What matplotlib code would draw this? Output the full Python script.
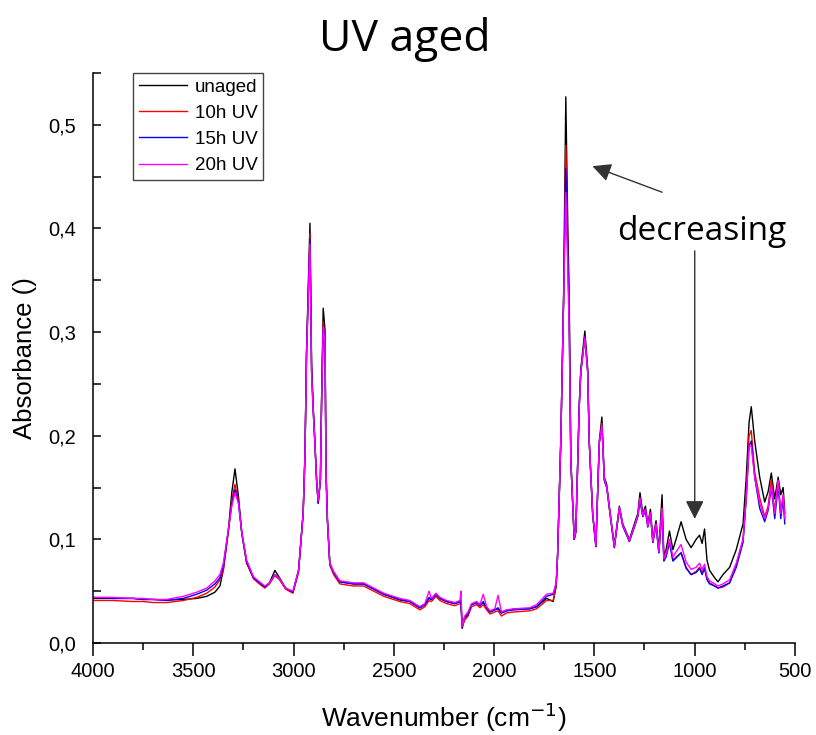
import numpy as np
import matplotlib.pyplot as plt
from matplotlib.ticker import MultipleLocator, FuncFormatter

# FTIR absorbance spectra, read at characteristic wavenumbers (cm-1)
wavenumber = [
    4000, 3900, 3800, 3750, 3700, 3633, 3550, 3483, 3433, 3392,
    3367, 3350, 3325, 3308, 3292, 3275, 3258, 3234, 3200, 3170,
    3143, 3120, 3093, 3070, 3040, 3003, 2975, 2952, 2943, 2935,
    2918, 2910, 2902, 2894, 2885, 2877, 2866, 2860, 2852, 2843,
    2838, 2831, 2819, 2800, 2769, 2700, 2650, 2600, 2550, 2470,
    2420, 2370, 2345, 2324, 2312, 2290, 2270, 2237, 2196, 2170,
    2165, 2159, 2146, 2130, 2112, 2087, 2070, 2054, 2037, 2020,
    1996, 1980, 1963, 1938, 1897, 1822, 1788, 1738, 1705, 1690,
    1683, 1667, 1653, 1642, 1632, 1625, 1617, 1600, 1592, 1575,
    1567, 1547, 1533, 1525, 1508, 1492, 1475, 1462, 1450, 1438,
    1425, 1400, 1375, 1358, 1325, 1300, 1283, 1272, 1258, 1245,
    1233, 1220, 1208, 1192, 1178, 1162, 1153, 1142, 1125, 1108,
    1092, 1067, 1042, 1017, 992, 975, 962, 950, 938, 925,
    900, 883, 858, 825, 792, 758, 742, 728, 717, 700,
    675, 650, 633, 617, 600, 583, 570, 558, 550,
]

unaged = [
    .043, .043, .043, .042, .042, .0415, .042, .043, .045, .049,
    .055, .071, .109, .145, .168, .142, .106, .077, .063, .058,
    .054, .058, .070, .063, .053, .049, .070, .125, .183, .283,
    .405, .270, .229, .197, .158, .135, .158, .238, .323, .302,
    .168, .120, .077, .068, .059, .057, .057, .052, .047, .0415,
    .040, .034, .037, .043, .042, .047, .043, .040, .038, .040,
    .039, .014, .024, .027, .037, .039, .036, .039, .034, .030,
    .032, .033, .029, .031, .033, .033, .035, .043, .040, .055,
    .084, .195, .334, .527, .400, .334, .178, .100, .108, .230,
    .265, .301, .265, .195, .125, .094, .195, .218, .160, .153,
    .132, .094, .132, .115, .100, .115, .125, .145, .125, .132,
    .115, .129, .100, .118, .090, .143, .084, .090, .108, .090,
    .100, .117, .100, .092, .100, .104, .096, .110, .080, .070,
    .063, .059, .066, .073, .090, .115, .160, .213, .228, .195,
    .160, .136, .146, .164, .139, .160, .143, .150, .125,
]

uv_10h = [
    .041, .041, .040, .040, .039, .039, .041, .044, .048, .054,
    .061, .070, .108, .138, .153, .138, .106, .078, .062, .057,
    .053, .057, .065, .061, .052, .048, .068, .125, .180, .280,
    .395, .265, .226, .195, .157, .135, .157, .233, .310, .292,
    .165, .118, .075, .066, .057, .055, .055, .050, .045, .040,
    .038, .032, .035, .041, .040, .045, .041, .038, .036, .038,
    .037, .017, .022, .026, .035, .037, .034, .037, .032, .028,
    .030, .031, .026, .029, .030, .031, .033, .041, .041, .055,
    .084, .195, .333, .480, .380, .320, .176, .100, .107, .228,
    .262, .296, .262, .193, .124, .093, .193, .212, .157, .150,
    .130, .092, .130, .113, .098, .112, .122, .138, .122, .128,
    .112, .125, .097, .114, .087, .130, .080, .084, .098, .080,
    .083, .087, .073, .066, .069, .073, .068, .073, .062, .058,
    .055, .053, .054, .058, .075, .100, .143, .200, .205, .165,
    .140, .122, .132, .157, .127, .157, .125, .143, .120,
]

uv_15h = [
    .044, .043, .043, .042, .042, .041, .043, .047, .051, .057,
    .063, .074, .108, .134, .148, .136, .106, .079, .063, .058,
    .054, .058, .066, .062, .053, .049, .070, .125, .180, .280,
    .390, .262, .225, .195, .157, .135, .157, .232, .305, .290,
    .165, .118, .076, .068, .059, .057, .057, .052, .047, .042,
    .040, .034, .037, .044, .042, .047, .043, .040, .038, .040,
    .040, .018, .025, .028, .037, .039, .036, .040, .034, .030,
    .032, .034, .029, .031, .032, .033, .035, .045, .047, .057,
    .085, .195, .332, .458, .370, .310, .176, .100, .107, .228,
    .262, .295, .262, .193, .124, .093, .193, .210, .157, .150,
    .130, .092, .130, .113, .098, .112, .122, .138, .122, .128,
    .112, .125, .097, .114, .087, .128, .079, .083, .097, .079,
    .082, .087, .072, .066, .068, .072, .066, .072, .061, .057,
    .055, .053, .055, .058, .073, .097, .140, .190, .195, .160,
    .130, .117, .128, .150, .120, .152, .120, .140, .115,
]

uv_20h = [
    .044, .044, .043, .043, .042, .042, .045, .049, .053, .060,
    .066, .077, .110, .132, .145, .135, .107, .080, .064, .059,
    .055, .058, .066, .062, .053, .050, .070, .125, .180, .280,
    .385, .260, .224, .195, .158, .137, .158, .232, .305, .290,
    .165, .119, .077, .069, .060, .058, .058, .053, .048, .043,
    .041, .035, .038, .050, .043, .048, .044, .041, .039, .041,
    .050, .016, .026, .030, .038, .040, .037, .047, .035, .031,
    .033, .046, .030, .032, .033, .034, .037, .047, .048, .058,
    .086, .195, .330, .435, .360, .300, .176, .101, .108, .228,
    .262, .294, .262, .194, .125, .094, .194, .210, .158, .151,
    .131, .093, .131, .114, .099, .113, .123, .140, .123, .129,
    .113, .126, .098, .115, .088, .130, .081, .086, .100, .083,
    .088, .095, .078, .071, .073, .077, .071, .076, .064, .060,
    .057, .055, .057, .061, .077, .100, .140, .190, .190, .160,
    .135, .120, .130, .152, .125, .157, .125, .143, .120,
]

series = [
    ("unaged", unaged, "black"),
    ("10h UV", uv_10h, "red"),
    ("15h UV", uv_15h, "blue"),
    ("20h UV", uv_20h, "magenta"),
]

tick_font = "Liberation Sans"
text_font = "Open Sans"

fig = plt.figure(figsize=(8.16, 7.35), dpi=100)
ax = fig.add_axes([0.114, 0.1252, 0.860, 0.7755])

for label, values, color in series:
    ax.plot(wavenumber, values, color=color, lw=1.0, label=label)

ax.set_xlim(4000, 500)
ax.set_ylim(0, 0.55)

ax.spines["top"].set_visible(False)
ax.spines["right"].set_visible(False)
for side in ("left", "bottom"):
    ax.spines[side].set_linewidth(1.1)

ax.xaxis.set_major_locator(MultipleLocator(500))
ax.xaxis.set_minor_locator(MultipleLocator(250))
ax.yaxis.set_major_locator(MultipleLocator(0.1))
ax.yaxis.set_minor_locator(MultipleLocator(0.05))
ax.yaxis.set_major_formatter(FuncFormatter(lambda v, _: f"{v:.1f}".replace(".", ",")))

ax.tick_params(axis="x", which="major", direction="out", length=9, width=1.1, pad=5)
ax.tick_params(axis="x", which="minor", direction="out", length=5, width=1.1)
ax.tick_params(axis="y", which="both", direction="in", length=6, width=1.1, pad=12)
for lbl in ax.get_xticklabels() + ax.get_yticklabels():
    lbl.set_fontfamily(tick_font)
    lbl.set_fontsize(14.5)

ax.set_xlabel("Wavenumber (cm$^{-1}$)", fontsize=19, family=tick_font, labelpad=14)
ax.set_ylabel("Absorbance ()", fontsize=18.5, family=tick_font, labelpad=8)

leg = ax.legend(loc="upper left", bbox_to_anchor=(0.057, 1.0), borderaxespad=0,
                fancybox=False, framealpha=1, edgecolor="#444444",
                prop={"family": tick_font, "size": 13.5}, handlelength=2.6,
                handletextpad=0.4, labelspacing=0.48, borderpad=0.3)
leg.get_frame().set_linewidth(1.0)

# arrows pointing at the bands that lose intensity with UV exposure
ax.annotate("", xy=(1522, 0.461), xytext=(1149, 0.434),
            arrowprops=dict(arrowstyle="-|>", mutation_scale=28, color="#333333", lw=1.0))
ax.annotate("", xy=(999, 0.117), xytext=(999, 0.381),
            arrowprops=dict(arrowstyle="-|>", mutation_scale=28, color="#333333", lw=1.0))
ax.text(964, 0.397, "decreasing", fontsize=24, family=text_font, ha="center", va="center")

fig.text(0.496, 0.946, "UV aged", fontsize=32, family=text_font, ha="center", va="center")

fig.savefig("out.png", dpi=100)
